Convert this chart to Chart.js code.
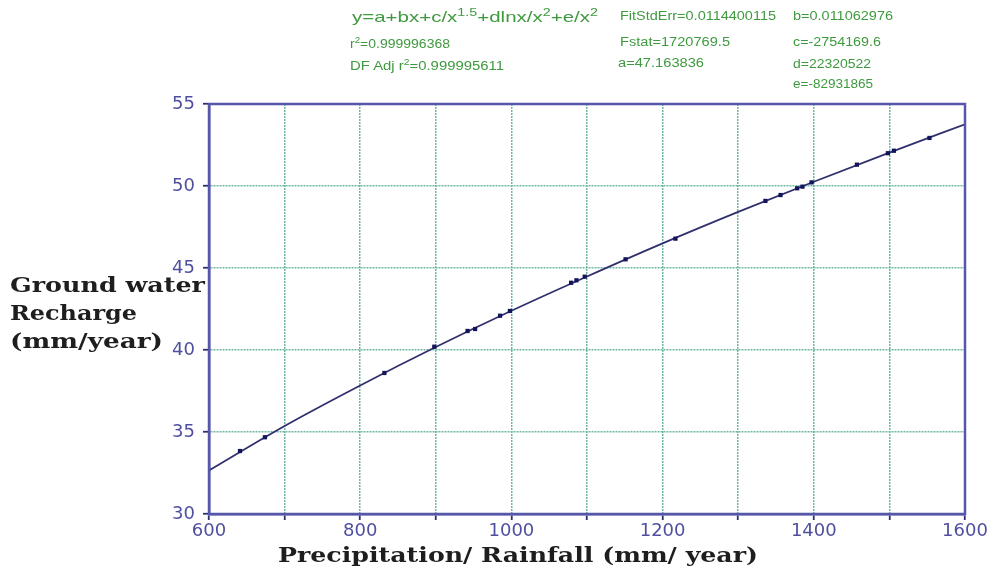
<!DOCTYPE html>
<html>
<head>
<meta charset="utf-8">
<script src="https://cdn.jsdelivr.net/npm/chart.js@4.4.1/dist/chart.umd.min.js"></script>
<style>
  html, body { margin:0; padding:0; background:#fff; }
  #wrap { position:relative; width:993px; height:569px; overflow:hidden; }
  canvas { position:absolute; left:0; top:0; }
  .t { position:absolute; white-space:nowrap; transform-origin:0 0; }
  .g { color:#3f9a3f; font-family:"Liberation Sans", Arial, sans-serif; font-size:12px; line-height:12px; }
  .eq { font-size:15px; line-height:15px; }
  .ax { color:#1e1e1e; font-family:"DejaVu Serif", serif; font-weight:bold; }
  sup { font-size:0.7em; vertical-align:0.55em; line-height:0; }
</style>
</head>
<body>
<div id="wrap">
  <canvas id="c" width="993" height="569"></canvas>
  <div class="t g eq" style="left:352px; top:9px;" data-w="246">y=a+bx+c/x<sup>1.5</sup>+dlnx/x<sup>2</sup>+e/x<sup>2</sup></div>
  <div class="t g" style="left:350px; top:38px;" data-w="100">r<sup>2</sup>=0.999996368</div>
  <div class="t g" style="left:350px; top:60px;" data-w="154">DF Adj r<sup>2</sup>=0.999995611</div>
  <div class="t g" style="left:620px; top:10px;" data-w="156">FitStdErr=0.0114400115</div>
  <div class="t g" style="left:620px; top:36px;" data-w="110">Fstat=1720769.5</div>
  <div class="t g" style="left:618px; top:57px;" data-w="86">a=47.163836</div>
  <div class="t g" style="left:793px; top:10px;" data-w="100">b=0.011062976</div>
  <div class="t g" style="left:793px; top:36px;" data-w="88">c=-2754169.6</div>
  <div class="t g" style="left:793px; top:58px;" data-w="78">d=22320522</div>
  <div class="t g" style="left:793px; top:78px;" data-w="80">e=-82931865</div>
  <div class="t ax" style="left:10px; top:275px; font-size:20px; line-height:20px;" data-w="195">Ground water</div>
  <div class="t ax" style="left:10px; top:303px; font-size:20px; line-height:20px;" data-w="127">Recharge</div>
  <div class="t ax" style="left:10px; top:331px; font-size:20px; line-height:20px;" data-w="153">(mm/year)</div>
  <div class="t ax" style="left:278px; top:544px; font-size:21px; line-height:21px;" data-w="480">Precipitation/ Rainfall (mm/ year)</div>
</div>
<script>
// ---- data ----
const rainfall = [641, 674, 832, 898, 942, 952, 985, 998, 1079, 1086, 1097, 1151, 1217, 1336, 1356, 1378, 1385, 1397, 1457, 1498, 1506, 1553];
const recharge = [33.84, 34.68, 38.6, 40.2, 41.16, 41.28, 42.09, 42.38, 44.1, 44.25, 44.47, 45.53, 46.79, 49.09, 49.45, 49.86, 49.96, 50.22, 51.3, 52.0, 52.15, 52.93];
const fitX = [600, 700, 800, 900, 1000, 1100, 1200, 1300, 1400, 1500, 1600];
const fitY = [32.66, 35.37, 37.84, 40.18, 42.39, 44.48, 46.50, 48.42, 50.26, 52.04, 53.76];
const xTickLabels = [600, 800, 1000, 1200, 1400, 1600];
const yTickLabels = [30, 35, 40, 45, 50, 55];

// fit text widths
document.querySelectorAll('.t[data-w]').forEach(el => {
  const w = el.getBoundingClientRect().width;
  const target = +el.dataset.w;
  if (w > 0) el.style.transform = 'scaleX(' + (target / w) + ')';
});

const axisColor = '#5656aa';
const gridColor = '#6fb7a2';
const tickFont = { family: '"DejaVu Sans", Verdana, sans-serif', size: 18 };

const framePlugin = {
  id: 'frame',
  afterDraw(chart) {
    const a = chart.chartArea, ctx = chart.ctx;
    ctx.save();
    ctx.strokeStyle = axisColor;
    ctx.lineWidth = 2.5;
    ctx.strokeRect(a.left, a.top, a.right - a.left, a.bottom - a.top);
    ctx.restore();
  }
};

new Chart(document.getElementById('c'), {
  type: 'scatter',
  data: {
    datasets: [
      {
        label: 'fit',
        data: fitX.map((x, i) => ({ x, y: fitY[i] })),
        showLine: true,
        borderColor: '#30306e',
        borderWidth: 1.8,
        pointRadius: 0,
        cubicInterpolationMode: 'monotone',
        order: 2
      },
      {
        label: 'observed',
        data: rainfall.map((x, i) => ({ x, y: recharge[i] })),
        pointStyle: 'rect',
        pointRadius: 3,
        backgroundColor: '#14145a',
        borderColor: '#14145a',
        borderWidth: 0,
        order: 1
      }
    ]
  },
  options: {
    responsive: false,
    animation: false,
    layout: { padding: { left: 0, top: 104, right: 28, bottom: 0 } },
    plugins: { legend: { display: false }, tooltip: { enabled: false } },
    scales: {
      x: {
        type: 'linear',
        min: 600, max: 1600,
        afterFit(s) { s.height = 55; },
        ticks: {
          stepSize: 100,
          color: '#4f4fa0',
          font: tickFont,
          padding: 1,
          maxRotation: 0,
          autoSkip: false,
          callback: v => xTickLabels.includes(v) ? String(v) : ''
        },
        grid: { color: gridColor, lineWidth: 1.5, tickLength: 6, tickColor: '#2e2e70', tickWidth: 1.8 },
        border: { color: axisColor, width: 2.5, dash: [2, 1] }
      },
      y: {
        type: 'linear',
        min: 30, max: 55,
        afterFit(s) { s.width = 209; },
        ticks: {
          stepSize: 5,
          color: '#4f4fa0',
          font: tickFont,
          padding: 8,
          callback: v => yTickLabels.includes(v) ? String(v) : ''
        },
        grid: { color: gridColor, lineWidth: 1.5, tickLength: 6, tickColor: '#2e2e70', tickWidth: 1.8 },
        border: { color: axisColor, width: 2.5, dash: [2, 1] }
      }
    }
  },
  plugins: [framePlugin]
});
</script>
</body>
</html>
